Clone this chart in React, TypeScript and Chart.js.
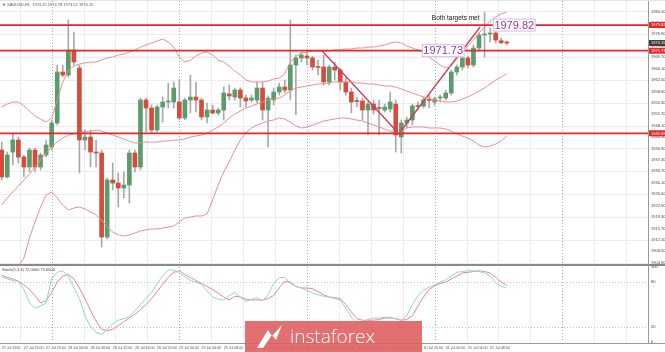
import React, { useEffect, useRef } from "react";
import { Chart, registerables } from "chart.js";
Chart.register(...registerables);

// ---------- data ----------
const opens = [1940.42,1931.91,1939.79,1943.57,1938.21,1935.06,1940.42,1935.06,1938.84,1941.36,
1948.93,1965.01,1964.07,1971.95,1966.27,1943.57,1944.52,1939.79,1939.47,1913.00,
1930.96,1930.01,1928.44,1929.38,1939.47,1935.06,1956.18,1953.66,1946.73,1953.98,
1955.55,1955.55,1955.55,1950.51,1956.18,1957.13,1956.18,1950.83,1953.03,1952.09,
1953.03,1958.08,1957.13,1959.34,1956.81,1956.18,1956.18,1959.97,1953.03,1956.18,
1958.71,1960.28,1959.34,1967.22,1969.42,1970.05,1969.42,1966.59,1966.59,1961.86,
1966.59,1965.64,1961.86,1958.71,1955.87,1955.87,1953.03,1954.92,1953.66,1953.03,
1953.35,1954.92,1944.52,1948.93,1949.88,1954.29,1954.29,1956.18,1955.55,1956.81,
1956.81,1958.39,1965.01,1966.59,1969.42,1967.22,1972.58,1976.68,1976.99,1977.31,
1974.88,1974.25];
const highs = [1942.94,1939.79,1945.78,1944.52,1938.84,1941.05,1941.05,1939.47,1943.57,1949.88,
1967.22,1967.22,1981.41,1977.62,1967.22,1946.73,1946.73,1943.57,1940.42,1931.59,
1936.32,1933.17,1933.48,1940.42,1940.42,1956.81,1956.81,1954.61,1954.61,1957.13,
1961.54,1961.86,1962.49,1956.81,1964.07,1961.86,1956.81,1955.24,1954.61,1953.66,
1960.28,1960.91,1959.97,1959.97,1957.76,1957.76,1961.86,1961.86,1957.45,1959.97,
1961.54,1962.49,1981.41,1970.37,1971.32,1971.95,1970.05,1968.79,1970.37,1967.22,
1968.16,1966.27,1963.12,1959.97,1957.13,1956.81,1955.55,1956.18,1956.18,1954.92,
1958.71,1956.18,1949.88,1950.83,1954.92,1955.55,1957.13,1957.76,1957.13,1957.76,
1959.34,1965.64,1967.22,1970.37,1970.05,1973.52,1977.31,1983.93,1978.88,1978.25,
1975.73,1974.78];
const lows = [1930.96,1931.59,1935.69,1936.32,1931.91,1933.48,1933.48,1934.12,1938.21,1940.42,
1948.30,1963.44,1963.44,1967.22,1933.17,1940.42,1935.06,1935.06,1909.84,1912.36,
1927.81,1922.45,1925.29,1923.71,1933.48,1934.12,1946.09,1945.78,1946.09,1949.25,
1953.66,1953.66,1949.88,1949.88,1952.09,1952.40,1949.88,1948.93,1951.77,1951.46,
1949.88,1956.18,1956.18,1953.98,1953.98,1955.55,1955.24,1949.88,1941.36,1954.61,
1957.76,1958.39,1956.18,1951.46,1968.16,1967.22,1965.64,1964.07,1960.91,1960.91,
1962.49,1959.34,1957.76,1952.09,1953.98,1949.88,1945.15,1951.77,1945.15,1952.40,
1952.40,1939.79,1939.47,1947.36,1948.30,1953.03,1953.66,1953.66,1954.61,1955.55,
1956.18,1957.76,1964.07,1965.64,1966.27,1966.59,1971.95,1969.74,1974.47,1974.15,
1973.84,1973.52];
const closes = [1931.91,1938.84,1943.57,1938.21,1935.06,1940.42,1935.06,1938.84,1941.99,1948.93,
1965.01,1964.07,1971.95,1968.16,1943.57,1944.52,1939.79,1939.47,1913.00,1930.96,
1930.01,1928.44,1929.38,1939.47,1935.06,1956.18,1953.66,1946.73,1953.98,1955.55,
1955.87,1959.97,1950.51,1956.18,1957.13,1956.18,1950.83,1953.03,1952.09,1953.03,
1958.39,1957.45,1959.34,1956.81,1955.87,1956.81,1959.97,1953.03,1956.81,1958.71,
1960.28,1959.34,1967.22,1969.42,1970.37,1969.42,1966.59,1966.43,1961.86,1966.59,
1965.64,1961.86,1958.71,1955.55,1955.71,1953.03,1954.92,1953.03,1953.50,1953.98,
1955.55,1945.15,1948.93,1949.88,1954.29,1954.13,1956.18,1956.03,1956.50,1956.97,
1958.39,1965.01,1966.59,1969.42,1967.22,1972.58,1976.68,1976.83,1977.31,1975.10,
1974.25,1974.15];

const bbUpper = [1953.98,1954.92,1955.55,1955.55,1954.29,1952.72,1951.14,1950.19,1949.25,1950.51,
1956.18,1961.86,1965.64,1966.90,1967.53,1967.85,1968.16,1968.16,1968.79,1969.42,
1969.74,1970.37,1970.69,1971.32,1971.95,1972.89,1973.52,1974.15,1974.78,1975.41,
1974.47,1972.89,1969.74,1968.16,1968.79,1970.05,1971.00,1971.32,1970.37,1968.79,
1968.16,1966.90,1965.33,1964.07,1962.49,1961.86,1961.86,1961.86,1962.17,1962.81,
1963.12,1964.38,1968.16,1970.05,1971.00,1971.32,1971.63,1971.63,1971.63,1971.63,
1971.95,1971.95,1972.26,1972.26,1972.58,1972.58,1972.89,1972.89,1973.21,1973.52,
1974.15,1974.47,1974.15,1973.21,1972.58,1971.95,1971.00,1969.74,1968.48,1967.22,
1966.27,1966.90,1969.11,1971.00,1973.21,1975.10,1977.31,1979.20,1981.09,1982.35,
1983.30,1983.93];
const bbMiddle = [1923.08,1925.29,1927.18,1929.07,1930.96,1932.85,1935.06,1937.27,1939.47,1941.36,
1942.94,1944.20,1945.15,1945.46,1945.78,1946.09,1946.41,1946.73,1946.41,1945.78,
1945.15,1944.52,1943.89,1943.26,1942.63,1942.63,1942.94,1942.94,1942.94,1943.26,
1943.26,1943.57,1943.57,1943.89,1944.52,1944.83,1945.15,1945.78,1946.73,1947.67,
1948.93,1950.51,1951.77,1952.72,1953.66,1954.29,1954.92,1955.55,1956.18,1956.50,
1956.81,1957.76,1959.02,1959.97,1960.28,1960.60,1960.91,1961.23,1961.23,1961.54,
1961.86,1961.86,1961.86,1961.86,1961.54,1961.54,1961.23,1961.23,1960.91,1960.60,
1960.60,1960.28,1959.65,1959.02,1958.39,1957.76,1957.13,1956.81,1956.18,1955.87,
1955.55,1955.55,1955.87,1956.50,1957.13,1958.08,1959.02,1959.97,1961.23,1962.49,
1963.44,1964.38];
const bbLower = [null,null,null,1903.85,1906.37,1912.68,1917.72,1922.45,1926.23,1927.18,
1925.29,1923.08,1921.51,1922.14,1922.45,1921.82,1920.88,1919.93,1918.35,1916.15,
1914.57,1913.63,1913.31,1913.63,1914.26,1914.89,1915.20,1915.52,1915.52,1915.83,
1916.15,1916.46,1917.72,1918.99,1919.30,1919.62,1919.62,1920.25,1924.66,1929.38,
1933.48,1936.64,1940.42,1943.57,1945.78,1947.36,1948.30,1948.93,1949.56,1949.88,
1950.51,1950.19,1949.25,1947.99,1947.36,1947.67,1948.30,1948.93,1949.56,1949.88,
1950.19,1950.51,1950.51,1950.19,1949.88,1949.56,1948.93,1948.30,1947.67,1947.04,
1946.41,1945.78,1946.09,1947.36,1947.67,1947.67,1947.67,1947.36,1947.36,1947.36,
1947.04,1946.41,1945.46,1944.83,1944.20,1943.26,1941.99,1941.36,1941.68,1942.31,
1943.26,1944.83];

const stochMain = [87,84,82,81,70,52,45,48,52,85,
93,95,88,72,58,35,20,13,10,17,
24,29,31,34,42,50,58,66,78,88,
96,96,92,87,82,80,77,68,60,57,
56,62,66,60,54,57,59,55,63,78,
86,86,78,74,72,69,65,63,61,60,
58,56,45,33,25,27,30,32,32,33,
33,31,29,35,50,62,69,73,76,80,
83,88,93,94,95,95,94,92,88,79,
74,72];
const stochSignal = [89,86,84,81,76,70,62,52,55,66,
80,88,90,84,72,58,42,28,17,15,
17,22,27,32,37,43,50,58,67,77,
86,93,95,90,86,82,78,74,70,65,
60,56,61,60,57,56,56,56,58,62,
72,81,80,74,72,72,71,67,63,60,
59,58,50,40,31,29,29,29,30,32,
32,31,29,30,35,48,60,70,75,78,
80,84,88,92,93,94,95,94,92,86,
80,75];

const priceTicks = [1984.10,1980.50,1976.90,1973.30,1969.70,1966.10,1962.50,1958.90,1955.30,1951.70,
1948.10,1944.50,1940.90,1937.30,1933.70,1930.10,1926.50,1922.90,1919.30,1915.70,1912.10,1908.50,1904.90];
const stochTicks = [100, 80, 20, 0];
const stochLevels = [80, 20];
const levels = [1979.82, 1971.73, 1945.69];
const trendDown = [{ x: 57.7, y: 1971.73 }, { x: 71.8, y: 1945.15 }];
const trendUp = [{ x: 71.5, y: 1945.47 }, { x: 86.2, y: 1979.2 }];
const noteBoxes = [
  { text: "1971.73", x: 75.7, y: 1971.73 },
  { text: "1979.82", x: 88.5, y: 1979.82 },
];
const noteText = { text: "Both targets met", x: 77.5, y: 1982.1 };
const xTickIndex = [0,4,8,12,16,20,24,28,32,36,40,44,48,52,56,60,64,68,72,76,80,84,88];
const xTickLabels = ["27 Jul 2020","27 Jul 19:00","27 Jul 23:00","28 Jul 04:00","28 Jul 08:00","28 Jul 12:00",
"28 Jul 16:00","28 Jul 20:00","29 Jul 00:00","29 Jul 04:00","29 Jul 08:00","29 Jul 12:00","29 Jul 16:00",
"29 Jul 20:00","30 Jul 00:00","30 Jul 04:00","30 Jul 08:00","30 Jul 12:00","30 Jul 16:00","30 Jul 20:00",
"31 Jul 00:00","31 Jul 04:00","31 Jul 08:00"];
const daySeparators = [9, 32, 55, 78, 101];
const headerText = "\u25BC XAUUSD,H1  1974.25 1974.78 1973.52 1974.15";
const stochTitle = "Stoch(5,3,3) 72.0000 75.0000";

const X_MIN = -0.31;
const X_MAX = 116.45;
const Y_MIN = 1904.48;
const Y_MAX = 1987.4;

const FONT = '"Liberation Sans", Arial, sans-serif';
const LEVEL_RED = "#e3262b";

function quarterGrid(): number[] {
  const out: number[] = [];
  daySeparators.forEach((d) => {
    for (let k = -3; k <= 3; k++) if (k !== 0) out.push(d + (k * 23) / 4);
  });
  return out;
}

function drawVertGrid(ctx: any, xs: any, top: number, bottom: number, left: number, right: number) {
  ctx.save();
  ctx.lineWidth = 1;
  ctx.strokeStyle = "#ececec";
  quarterGrid().forEach((v) => {
    const px = Math.round(xs.getPixelForValue(v)) + 0.5;
    if (px < left || px > right) return;
    ctx.beginPath(); ctx.moveTo(px, top); ctx.lineTo(px, bottom); ctx.stroke();
  });
  ctx.strokeStyle = "#a8a8a8";
  ctx.setLineDash([1, 2]);
  daySeparators.forEach((v) => {
    const px = Math.round(xs.getPixelForValue(v)) + 0.5;
    if (px < left || px > right) return;
    ctx.beginPath(); ctx.moveTo(px, top); ctx.lineTo(px, bottom); ctx.stroke();
  });
  ctx.restore();
}

const mainDecor = {
  id: "mainDecor",
  beforeDatasetsDraw(chart: any) {
    const { ctx, chartArea: a } = chart;
    const xs = chart.scales.x, ys = chart.scales.y;
    ctx.save();
    ctx.lineWidth = 1;
    ctx.strokeStyle = "#ececec";
    priceTicks.forEach((t, k) => {
      if ((priceTicks.length - 1 - k) % 2 !== 0) return;
      const py = Math.round(ys.getPixelForValue(t)) + 0.5;
      ctx.beginPath(); ctx.moveTo(a.left, py); ctx.lineTo(a.right, py); ctx.stroke();
    });
    ctx.restore();
    drawVertGrid(ctx, xs, a.top, a.bottom, a.left, a.right);
  },
  afterDatasetsDraw(chart: any) {
    const { ctx, chartArea: a } = chart;
    const xs = chart.scales.x, ys = chart.scales.y;
    ctx.save();
    ctx.strokeStyle = LEVEL_RED;
    ctx.lineWidth = 1.7;
    levels.forEach((lv) => {
      const py = ys.getPixelForValue(lv);
      ctx.beginPath(); ctx.moveTo(a.left, py); ctx.lineTo(a.right, py); ctx.stroke();
    });
    ctx.font = "11px " + FONT;
    ctx.textBaseline = "middle";
    noteBoxes.forEach((n) => {
      const px = xs.getPixelForValue(n.x);
      const py = ys.getPixelForValue(n.y);
      const w = ctx.measureText(n.text).width;
      ctx.fillStyle = "rgba(255,255,255,0.95)";
      ctx.fillRect(px, py - 6.5, w + 3, 13);
      ctx.strokeStyle = "#d9b6e6";
      ctx.lineWidth = 1;
      ctx.strokeRect(px + 0.5, py - 6, w + 2, 12);
      ctx.fillStyle = "#8e3d9e";
      ctx.textAlign = "left";
      ctx.fillText(n.text, px + 1.5, py + 0.5);
    });
    ctx.font = "6.5px " + FONT;
    ctx.fillStyle = "#111";
    ctx.fillText(noteText.text, xs.getPixelForValue(noteText.x), ys.getPixelForValue(noteText.y));
    ctx.restore();
  },
  afterDraw(chart: any) {
    const { ctx, chartArea: a, width, height } = chart;
    const ys = chart.scales.y;
    ctx.save();
    ctx.fillStyle = "#9a9a9a";
    ctx.fillRect(Math.round(a.right), 0, 1, height);
    ctx.fillStyle = "#8a8a8a";
    ctx.fillRect(0, height - 1, width, 1);
    ctx.fillStyle = "#e4e4e4";
    ctx.fillRect(0, 0, width, 1);
    ctx.font = "4px " + FONT;
    ctx.fillStyle = "#444";
    ctx.textAlign = "left";
    ctx.textBaseline = "middle";
    priceTicks.forEach((t) => {
      ctx.fillText(t.toFixed(2), a.right + 3, ys.getPixelForValue(t));
    });
    levels.forEach((lv) => {
      const py = ys.getPixelForValue(lv);
      ctx.fillStyle = LEVEL_RED;
      ctx.fillRect(a.right + 1, py - 3, 16, 6);
      ctx.fillStyle = "#fff";
      ctx.fillText(lv.toFixed(2), a.right + 3, py + 0.3);
    });
    const last = closes[closes.length - 1];
    const lp = ys.getPixelForValue(last);
    ctx.fillStyle = "#3c3c3c";
    ctx.fillRect(a.right + 1, lp - 3, 16, 6);
    ctx.fillStyle = "#fff";
    ctx.fillText(last.toFixed(2), a.right + 3, lp + 0.3);
    ctx.fillStyle = "#555";
    ctx.font = "4px " + FONT;
    ctx.fillText(headerText, 2, 5);
    ctx.restore();
  },
};

const stochDecor = {
  id: "stochDecor",
  beforeDatasetsDraw(chart: any) {
    const { ctx, chartArea: a } = chart;
    const xs = chart.scales.x, ys = chart.scales.y;
    drawVertGrid(ctx, xs, a.top, a.bottom, a.left, a.right);
    ctx.save();
    ctx.strokeStyle = "#c4c4c4";
    ctx.lineWidth = 1;
    ctx.setLineDash([1, 2]);
    stochLevels.forEach((lv) => {
      const py = Math.round(ys.getPixelForValue(lv)) + 0.5;
      ctx.beginPath(); ctx.moveTo(a.left, py); ctx.lineTo(a.right, py); ctx.stroke();
    });
    ctx.restore();
  },
  afterDraw(chart: any) {
    const { ctx, chartArea: a, width } = chart;
    const xs = chart.scales.x, ys = chart.scales.y;
    ctx.save();
    ctx.fillStyle = "#8a8a8a";
    ctx.fillRect(0, 0, width, 1);
    ctx.fillStyle = "#9a9a9a";
    ctx.fillRect(0, Math.round(a.bottom) + 1, width, 1);
    ctx.fillRect(Math.round(a.right), 0, 1, a.bottom + 2);
    ctx.font = "4px " + FONT;
    ctx.fillStyle = "#444";
    ctx.textBaseline = "middle";
    ctx.textAlign = "left";
    stochTicks.forEach((t) => ctx.fillText(String(t), a.right + 3, ys.getPixelForValue(t)));
    ctx.fillText(stochTitle, 2, 4.5);
    ctx.font = "3.6px " + FONT;
    ctx.fillStyle = "#555";
    xTickIndex.forEach((ix, k) => {
      const px = xs.getPixelForValue(ix);
      ctx.fillText(xTickLabels[k], px, a.bottom + 6);
    });
    ctx.restore();
  },
};

export default function App() {
  const mainRef = useRef<HTMLCanvasElement>(null);
  const stochRef = useRef<HTMLCanvasElement>(null);

  useEffect(() => {
    document.body.style.margin = "0";
    const idx = closes.map((_, i) => i);
    const bodyColors = idx.map((i) => (closes[i] >= opens[i] ? "#5a9c6c" : "#d64b3c"));
    const lineDs = (label: string, arr: (number | null)[], color: string, width: number) => ({
      type: "line" as const,
      label,
      data: arr.map((v, i) => ({ x: i, y: v })),
      borderColor: color,
      borderWidth: width,
      pointRadius: 0,
      tension: 0,
      order: 0,
    });
    const main = new Chart(mainRef.current as HTMLCanvasElement, {
      type: "bar",
      data: {
        datasets: [
          lineDs("BB upper", bbUpper, "#ef8e8e", 1),
          lineDs("BB middle", bbMiddle, "#ef8e8e", 1),
          lineDs("BB lower", bbLower, "#ef8e8e", 1),
          { type: "line", label: "trend down", data: trendDown, borderColor: "#c63d5c", borderWidth: 1.3, pointRadius: 0, order: 0 } as any,
          { type: "line", label: "trend up", data: trendUp, borderColor: "#c63d5c", borderWidth: 1.3, pointRadius: 0, order: 0 } as any,
          {
            type: "bar",
            label: "body",
            data: idx.map((i) => ({ x: i, y: [opens[i], closes[i]] })),
            backgroundColor: bodyColors,
            barThickness: 4,
            minBarLength: 1,
            grouped: false,
            order: 1,
          } as any,
          {
            type: "bar",
            label: "wick",
            data: idx.map((i) => ({ x: i, y: [lows[i], highs[i]] })),
            backgroundColor: "#a9a9a9",
            barThickness: 1,
            grouped: false,
            order: 2,
          } as any,
        ],
      },
      options: {
        responsive: false,
        animation: false,
        events: [],
        layout: { padding: { left: 0, right: 17, top: 1, bottom: 1 } },
        plugins: { legend: { display: false }, tooltip: { enabled: false } },
        scales: {
          x: { type: "linear", min: X_MIN, max: X_MAX, display: false, offset: false, grid: { offset: false } },
          y: { type: "linear", min: Y_MIN, max: Y_MAX, display: false },
        },
      },
      plugins: [mainDecor],
    } as any);

    const stoch = new Chart(stochRef.current as HTMLCanvasElement, {
      type: "line",
      data: {
        datasets: [
          { label: "main", data: stochMain.map((v, i) => ({ x: i, y: v })), borderColor: "#86d8d6", borderWidth: 1, pointRadius: 0 },
          { label: "signal", data: stochSignal.map((v, i) => ({ x: i, y: v })), borderColor: "#ef8585", borderWidth: 1, pointRadius: 0 },
        ],
      },
      options: {
        responsive: false,
        animation: false,
        events: [],
        layout: { padding: { left: 0, right: 17, top: 2, bottom: 10 } },
        plugins: { legend: { display: false }, tooltip: { enabled: false } },
        scales: {
          x: { type: "linear", min: X_MIN, max: X_MAX, display: false, offset: false },
          y: { type: "linear", min: 0, max: 100, display: false },
        },
      },
      plugins: [stochDecor],
    } as any);

    return () => {
      main.destroy();
      stoch.destroy();
    };
  }, []);

  return (
    <div style={{ position: "relative", width: 665, height: 352, background: "#fff", overflow: "hidden" }}>
      <canvas ref={mainRef} width={665} height={265} style={{ position: "absolute", left: 0, top: 0 }} />
      <canvas ref={stochRef} width={665} height={87} style={{ position: "absolute", left: 0, top: 265 }} />
      <div
        style={{
          position: "absolute",
          left: 245,
          top: 321,
          width: 177,
          height: 31,
          background: "rgba(224,96,96,0.9)",
        }}
      >
        <svg width="30" height="26" viewBox="0 0 30 26" style={{ position: "absolute", left: 10, top: 3 }}>
          <polygon points="2,24 13,6 17,12 27,1 21,16 17,11 8,24" fill="#fff" />
        </svg>
        <span
          style={{
            position: "absolute",
            left: 45,
            top: 1,
            color: "#fff",
            fontFamily: '"Open Sans", sans-serif',
            fontWeight: 300,
            fontSize: 19,
            lineHeight: "28px",
            whiteSpace: "nowrap",
          }}
        >
          instaforex
        </span>
      </div>
    </div>
  );
}
